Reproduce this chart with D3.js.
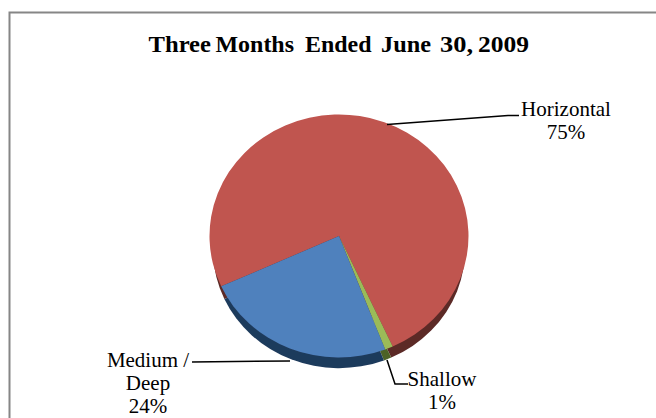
<!DOCTYPE html>
<html>
<head>
<meta charset="utf-8">
<script src="https://cdn.jsdelivr.net/npm/d3@7/dist/d3.min.js"></script>
<style>
  html, body { margin: 0; padding: 0; background: #fff; }
  svg { display: block; font-family: "Liberation Serif", serif; }
</style>
</head>
<body>
<svg id="chart" width="656" height="418"></svg>
<script>
const titleWords = ['Three', 'Months', 'Ended', 'June', '30,', '2009'];
const categories = ['Horizontal', 'Shallow', 'Medium / Deep'];
const shares = [75, 1, 24];
const topColors = ['#c0544f', '#9bbb59', '#4f81bd'];
const sideColors = ['#5c2a28', '#4d6228', '#1f3a5c'];

const width = 656, height = 418;
const cx = 339, cy = 236;
const rx = 129.5, wallRx = 126, squash = 0.938, depth = 14;

const svg = d3.select('#chart');

// the scan soft-focuses the pie a little
svg.append('defs').append('filter').attr('id', 'soft')
    .append('feGaussianBlur').attr('stdDeviation', 0.5);

// chart frame, only top and left edges show in the crop
svg.append('path')
    .attr('d', d3.line()([[9.5, height], [9.5, 12.5], [width, 12.5]]))
    .attr('fill', 'none').attr('stroke', '#868686').attr('stroke-width', 2);

// title words are spaced unevenly in the original, so each gets its own slot
const titleX = [148.5, 215.5, 305, 381, 440, 478];
const titleEnd = [211, 294, 371.5, 431, 473, 529];
svg.append('g').selectAll('text').data(titleWords).enter().append('text')
    .attr('x', (d, i) => titleX[i]).attr('y', 52)
    .attr('font-size', 24).attr('font-weight', 'bold')
    .attr('textLength', (d, i) => titleEnd[i] - titleX[i])
    .attr('lengthAdjust', 'spacingAndGlyphs')
    .text(d => d);

const deg = d3.scaleLinear().domain([0, 360]).range([0, 2 * Math.PI]);
const pie = d3.pie().sort(null).startAngle(deg(245.5)).endAngle(deg(605.5));
const arcs = pie(shares);

const pieGroup = svg.append('g').attr('filter', 'url(#soft)');

// side wall first, top face over it
pieGroup.append('g')
    .attr('transform', `translate(${cx},${cy + depth}) scale(1,${squash})`)
    .selectAll('path').data(arcs).enter().append('path')
    .attr('d', d3.arc().innerRadius(0).outerRadius(wallRx))
    .attr('fill', (d, i) => sideColors[i]);

pieGroup.append('g')
    .attr('transform', `translate(${cx},${cy}) scale(1,${squash})`)
    .selectAll('path').data(arcs).enter().append('path')
    .attr('d', d3.arc().innerRadius(0).outerRadius(rx))
    .attr('fill', (d, i) => topColors[i]);

// leader lines
const line = d3.line();
const leaders = [
    [[387, 124.5], [508, 115.5], [519, 115.5]],
    [[387, 360], [395, 384], [408, 384]],
    [[290, 361], [192, 362]]
];
svg.append('g').selectAll('path').data(leaders).enter().append('path')
    .attr('d', line)
    .attr('fill', 'none').attr('stroke', '#000').attr('stroke-width', 1.5);

const labels = [
    { x: 566, y: 116, lines: ['Horizontal', '75%'] },
    { x: 442, y: 386, lines: ['Shallow', '1%'] },
    { x: 148, y: 367, lines: ['Medium /', 'Deep', '24%'] }
];
labels.forEach(l => {
    svg.append('text')
        .attr('text-anchor', 'middle')
        .attr('font-size', 21)
        .selectAll('tspan').data(l.lines).enter().append('tspan')
        .attr('x', l.x)
        .attr('y', (d, i) => l.y + i * 23)
        .text(d => d);
});
</script>
</body>
</html>
